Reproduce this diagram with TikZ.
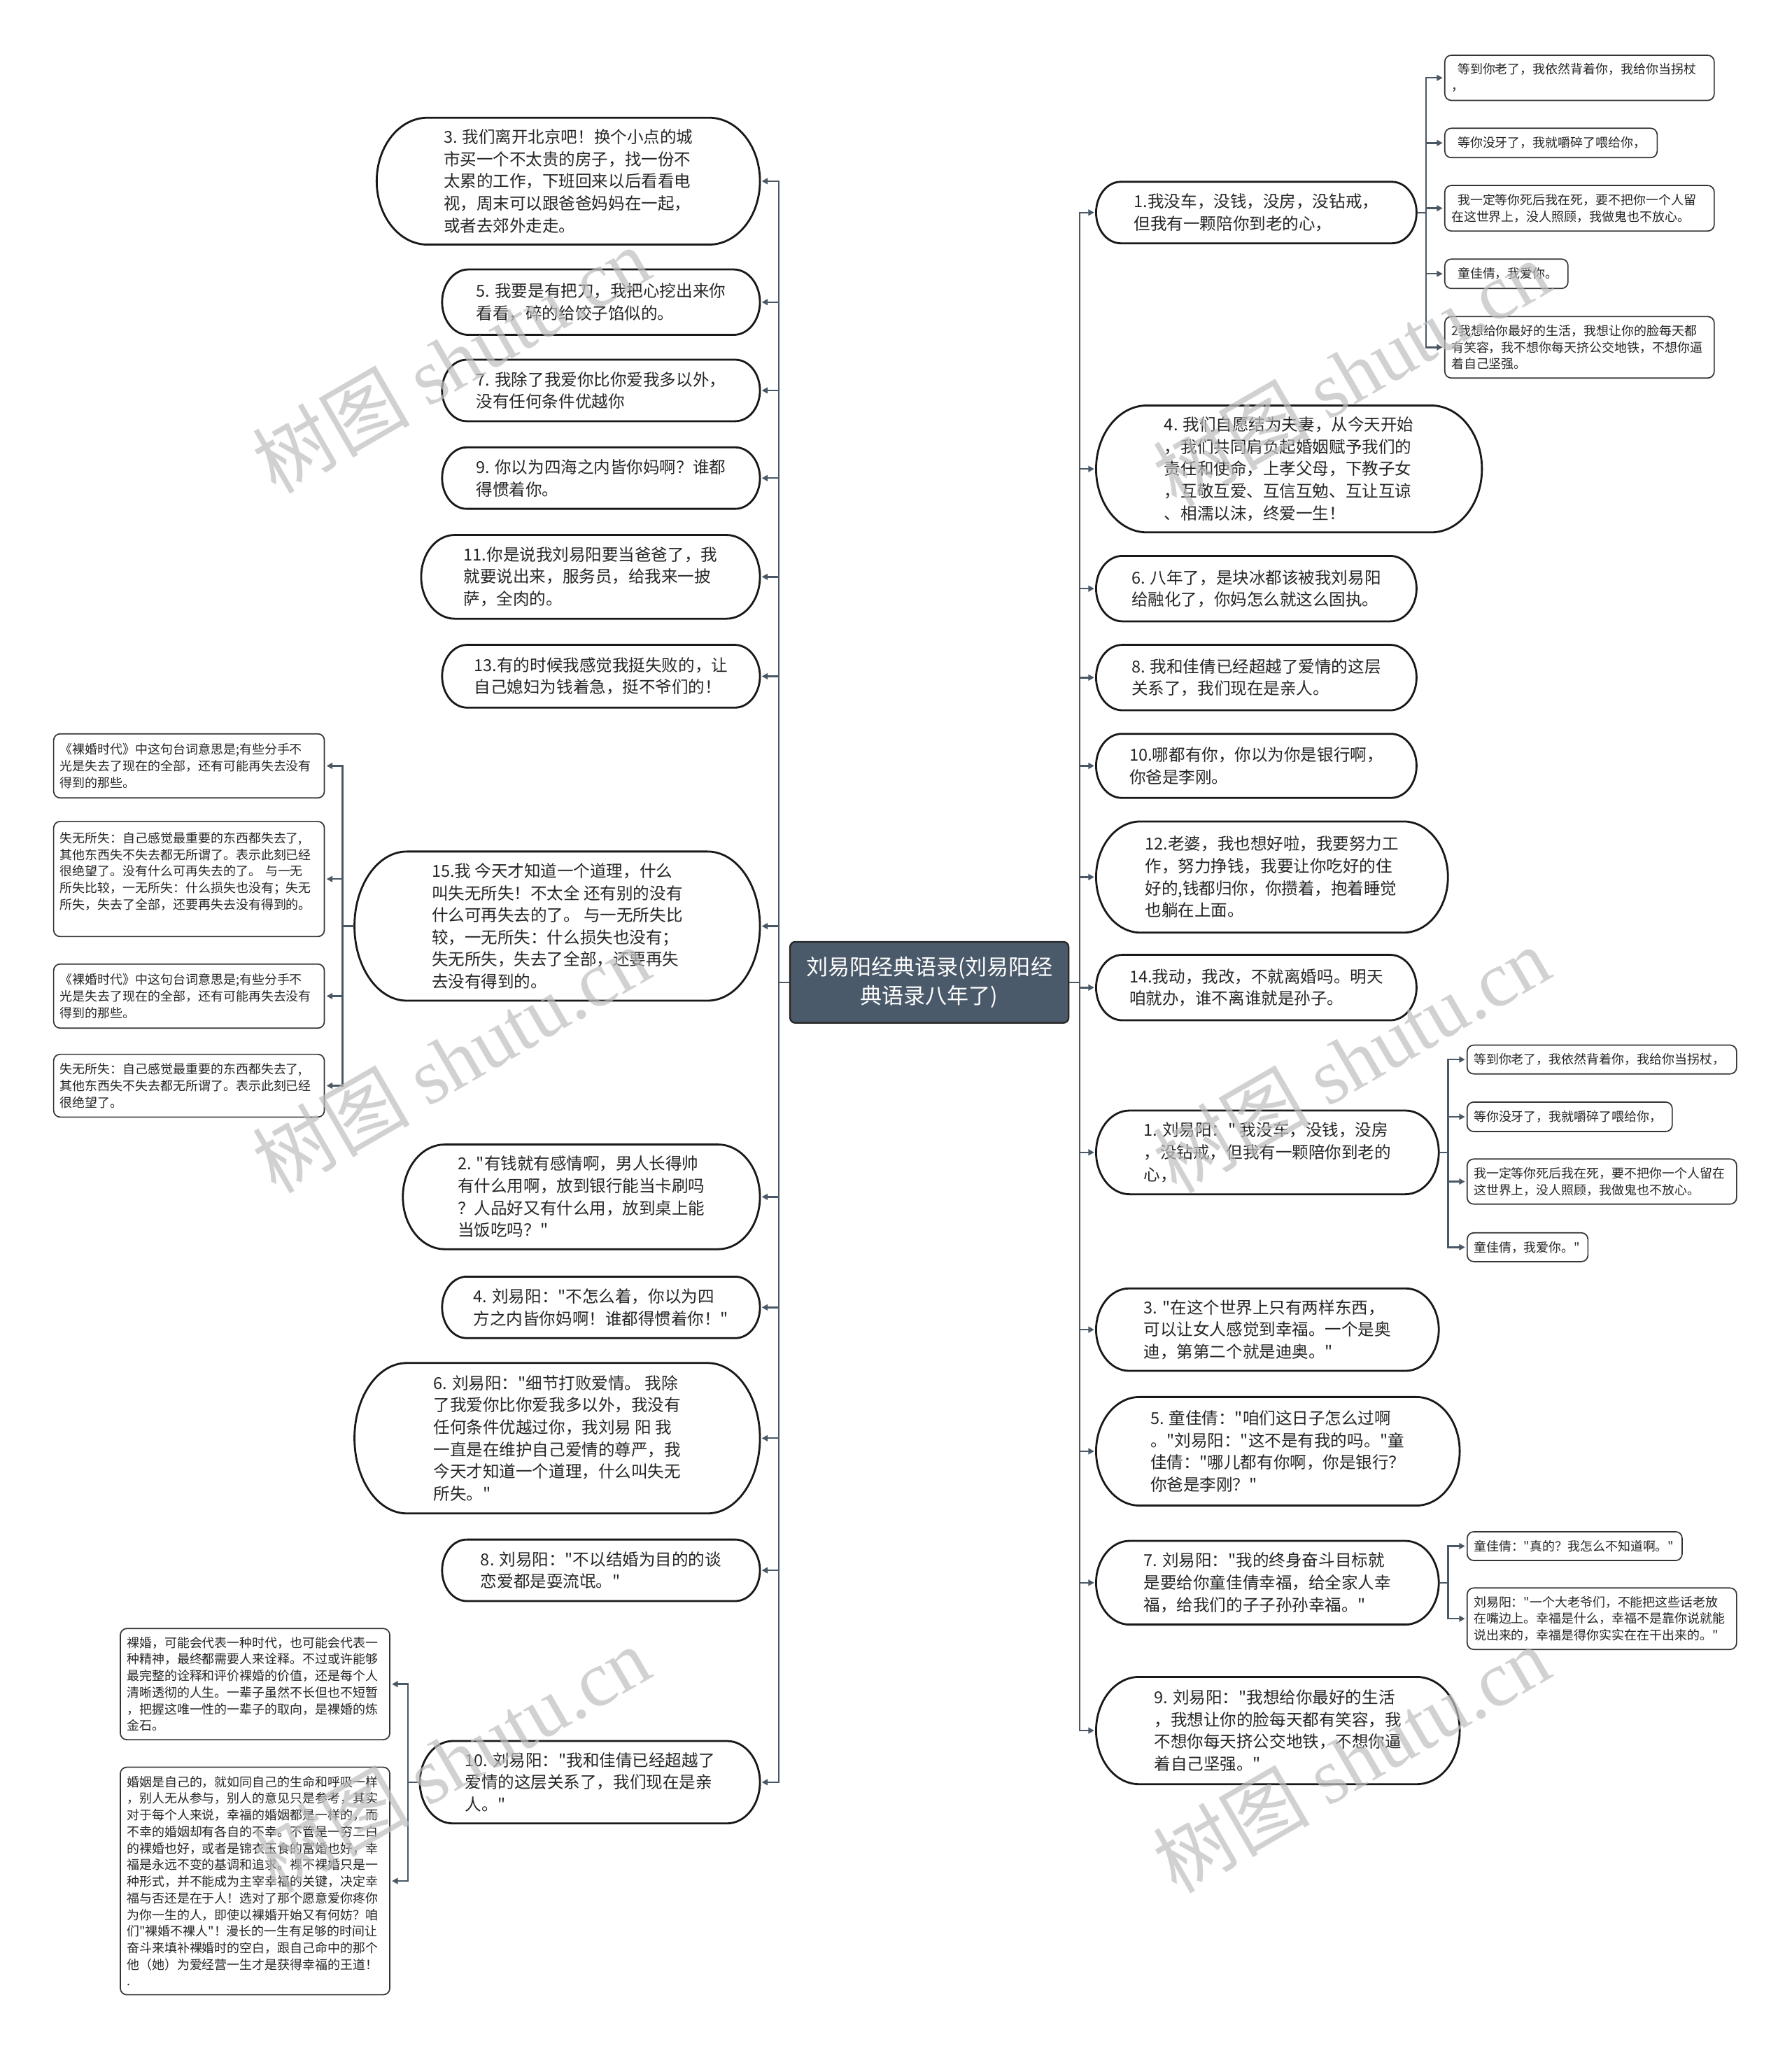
\documentclass[tikz,border=0pt]{standalone}
\usepackage{fontspec}
\setmainfont{Noto Sans CJK SC}[Ligatures=TeXOff]
\newfontfamily\wmserif{Liberation Serif}
\usetikzlibrary{arrows.meta,calc}
\definecolor{connc}{RGB}{74,88,102}
\definecolor{rootc}{RGB}{75,90,106}
\definecolor{wmc}{RGB}{190,190,190}
\tikzset{
 conn/.style={draw=connc, line width=1.3pt, -{Triangle[length=4.5pt,width=4.6pt]}, shorten >=1.2pt},
 pillline/.style={draw=black!90, line width=1.5pt, fill=white},
 pilltext/.style={draw=none, align=left, inner sep=0pt, text=black!85, font=\fontsize{12.6pt}{16.9pt}\selectfont},
 leafbox/.style={draw=black!80, line width=0.9pt, rounded corners=5pt, fill=white, align=left, inner xsep=5pt, inner ysep=0pt, text=black!85, font=\fontsize{9.6pt}{12.7pt}\selectfont},
 rootbox/.style={fill=rootc, draw=black!85, line width=1.2pt, rounded corners=4pt, text=white, align=center, minimum width=213, minimum height=62, inner sep=0pt, font=\fontsize{16.6pt}{22pt}\selectfont},
 wm/.style={text=wmc, text opacity=0.7, font=\fontsize{60pt}{60pt}\selectfont, inner sep=0pt}
}
\newcommand\pillnode[6]{%
 \pgfmathsetmacro\pillRY{#5/2}%
 \pgfmathsetmacro\pillRX{min(0.8*\pillRY,40)}%
 \pgfmathsetmacro\pillL{#2-#4/2}%
 \pgfmathsetmacro\pillR{#2+#4/2}%
 \pgfmathsetmacro\pillT{#3-\pillRY}%
 \pgfmathsetmacro\pillB{#3+\pillRY}%
 \pgfmathsetmacro\pillKX{0.5523*\pillRX}%
 \pgfmathsetmacro\pillKY{0.5523*\pillRY}%
 \path[pillline] (\pillL+\pillRX,\pillT) -- (\pillR-\pillRX,\pillT)
   .. controls (\pillR-\pillRX+\pillKX,\pillT) and (\pillR,#3-\pillKY) .. (\pillR,#3)
   .. controls (\pillR,#3+\pillKY) and (\pillR-\pillRX+\pillKX,\pillB) .. (\pillR-\pillRX,\pillB)
   -- (\pillL+\pillRX,\pillB)
   .. controls (\pillL+\pillRX-\pillKX,\pillB) and (\pillL,#3+\pillKY) .. (\pillL,#3)
   .. controls (\pillL,#3-\pillKY) and (\pillL+\pillRX-\pillKX,\pillT) .. (\pillL+\pillRX,\pillT) -- cycle;
 \node[pilltext, minimum width=#4, minimum height=#5] (#1) at (#2,#3) {#6};
}
\newcommand\leafnode[6]{%
 \pgfmathsetmacro\leafTW{#4-10}%
 \node[leafbox, text width=\leafTW pt, minimum height=#5] (#1) at (#2,#3) {#6};
}
\begin{document}
\begin{tikzpicture}[x=1pt,y=-1pt]
\fill[white] (0,0) rectangle (1370,1568);
\useasboundingbox (0,0) rectangle (1370,1568);

% root
\node[rootbox] (root) at (710.5,751) {刘易阳经典语录(刘易阳经\\典语录八年了)};

% right main nodes
\pillnode{R1}{960.5}{162.5}{245}{47}{1.我没车，没钱，没房，没钻戒，\\但我有一颗陪你到老的心，}
\pillnode{R4}{985.5}{358.5}{295}{97}{4. 我们自愿结为夫妻，从今天开始\\，我们共同肩负起婚姻赋予我们的\\责任和使命，上孝父母，下教子女\\，互敬互爱、互信互勉、互让互谅\\、相濡以沫，终爱一生！}
\pillnode{R6}{960.5}{450}{245}{50}{6. 八年了，是块冰都该被我刘易阳\\给融化了，你妈怎么就这么固执。}
\pillnode{R8}{960.5}{518}{245}{50}{8. 我和佳倩已经超越了爱情的这层\\关系了，我们现在是亲人。}
\pillnode{R10}{960.5}{585.5}{245}{49}{10.哪都有你，你以为你是银行啊，\\你爸是李刚。}
\pillnode{R12}{972.5}{670.5}{269}{85}{12.老婆，我也想好啦，我要努力工\\作，努力挣钱，我要让你吃好的住\\好的,钱都归你，你攒着，抱着睡觉\\也躺在上面。}
\pillnode{R14}{960.5}{755}{245}{50}{14.我动，我改，不就离婚吗。明天\\咱就办，谁不离谁就是孙子。}
\pillnode{R1b}{969}{881}{262}{64}{1. 刘易阳：" 我没车，没钱，没房\\，没钻戒，但我有一颗陪你到老的\\心，}
\pillnode{R3}{969}{1016.5}{262}{63}{3. "在这个世界上只有两样东西，\\可以让女人感觉到幸福。一个是奥\\迪，第第二个就是迪奥。"}
\pillnode{R5}{977}{1109.5}{278}{83}{5. 童佳倩："咱们这日子怎么过啊\\。"刘易阳："这不是有我的吗。"童\\佳倩："哪儿都有你啊，你是银行？\\你爸是李刚？"}
\pillnode{R7}{969}{1210}{262}{64}{7. 刘易阳："我的终身奋斗目标就\\是要给你童佳倩幸福，给全家人幸\\福，给我们的子子孙孙幸福。"}
\pillnode{R9}{977}{1323}{278}{82}{9. 刘易阳："我想给你最好的生活\\，我想让你的脸每天都有笑容，我\\不想你每天挤公交地铁，不想你逼\\着自己坚强。"}

% left main nodes
\pillnode{L3}{434.5}{138.5}{293}{97}{3. 我们离开北京吧！换个小点的城\\市买一个不太贵的房子，找一份不\\太累的工作，下班回来以后看看电\\视，周末可以跟爸爸妈妈在一起，\\或者去郊外走走。}
\pillnode{L5}{459.5}{231}{243}{50}{5. 我要是有把刀，我把心挖出来你\\看看，碎的给饺子馅似的。}
\pillnode{L7}{459.5}{298.5}{243}{47}{7. 我除了我爱你比你爱我多以外，\\没有任何条件优越你}
\pillnode{L9}{459.5}{365.5}{243}{47}{9. 你以为四海之内皆你妈啊？谁都\\得惯着你。}
\pillnode{L11}{451.5}{441}{259}{64}{11.你是说我刘易阳要当爸爸了，我\\就要说出来，服务员，给我来一披\\萨，全肉的。}
\pillnode{L13}{459.5}{517}{243}{48}{13.有的时候我感觉我挺失败的，让\\自己媳妇为钱着急，挺不爷们的！}
\pillnode{L15}{426}{708}{310}{114}{15.我 今天才知道一个道理，什么\\叫失无所失！不太全 还有别的没有\\什么可再失去的了。 与一无所失比\\较，一无所失：什么损失也没有；\\失无所失，失去了全部，还要再失\\去没有得到的。}
\pillnode{L2}{444.5}{915}{273}{80}{2. "有钱就有感情啊，男人长得帅\\有什么用啊，放到银行能当卡刷吗\\？人品好又有什么用，放到桌上能\\当饭吃吗？"}
\pillnode{L4}{459.5}{999.5}{243}{47}{4. 刘易阳："不怎么着，你以为四\\方之内皆你妈啊！谁都得惯着你！"}
\pillnode{L6}{426}{1099.5}{310}{115}{6. 刘易阳："细节打败爱情。 我除\\了我爱你比你爱我多以外，我没有\\任何条件优越过你，我刘易 阳 我\\一直是在维护自己爱情的尊严，我\\今天才知道一个道理，什么叫失无\\所失。"}
\pillnode{L8}{459.5}{1200.5}{243}{47}{8. 刘易阳："不以结婚为目的的谈\\恋爱都是耍流氓。"}
\pillnode{L10}{451}{1362.5}{260}{63}{10. 刘易阳："我和佳倩已经超越了\\爱情的这层关系了，我们现在是亲\\人。"}

% right leaves
\leafnode{RL1}{1207.6}{59.5}{206}{34.5}{\hspace*{.5em}等到你老了，我依然背着你，我给你当拐杖\\，}
\leafnode{RL2}{1185.8}{109.3}{162.4}{22.5}{\hspace*{.5em}等你没牙了，我就嚼碎了喂给你，}
\leafnode{RL3}{1207.6}{159.2}{206}{34.8}{\hspace*{.5em}我一定等你死后我在死，要不把你一个人留\\在这世界上，没人照顾，我做鬼也不放心。}
\leafnode{RL4}{1151.7}{209.3}{94.2}{22.5}{\hspace*{.5em}童佳倩，我爱你。}
\leafnode{RL5}{1207.6}{265.5}{206}{47}{2我想给你最好的生活，我想让你的脸每天都\\有笑容，我不想你每天挤公交地铁，不想你逼\\着自己坚强。}
\leafnode{RL6}{1224.7}{810}{206}{22}{等到你老了，我依然背着你，我给你当拐杖，}
\leafnode{RL7}{1200.1}{853.8}{156.8}{22.5}{等你没牙了，我就嚼碎了喂给你，}
\leafnode{RL8}{1224.7}{903.3}{206}{34.5}{我一定等你死后我在死，要不把你一个人留在\\这世界上，没人照顾，我做鬼也不放心。}
\leafnode{RL9}{1167.9}{953.5}{92.3}{22}{童佳倩，我爱你。"}
\leafnode{RL10}{1203.9}{1182}{164.3}{22}{童佳倩："真的？我怎么不知道啊。"}
\leafnode{RL11}{1224.7}{1237.5}{206}{47}{刘易阳："一个大老爷们，不能把这些话老放\\在嘴边上。幸福是什么，幸福不是靠你说就能\\说出来的，幸福是得你实实在在干出来的。"}

% left leaves
\leafnode{LL1}{144.5}{585.5}{207}{49}{《裸婚时代》中这句台词意思是;有些分手不\\光是失去了现在的全部，还有可能再失去没有\\得到的那些。}
\leafnode{LL2}{144.5}{672}{207}{88}{失无所失：自己感觉最重要的东西都失去了,\\其他东西失不失去都无所谓了。表示此刻已经\\很绝望了。没有什么可再失去的了。 与一无\\所失比较，一无所失：什么损失也没有；失无\\所失，失去了全部，还要再失去没有得到的。\\\mbox{}}
\leafnode{LL3}{144.5}{761.5}{207}{49}{《裸婚时代》中这句台词意思是;有些分手不\\光是失去了现在的全部，还有可能再失去没有\\得到的那些。}
\leafnode{LL4}{144.5}{830}{207}{48}{失无所失：自己感觉最重要的东西都失去了,\\其他东西失不失去都无所谓了。表示此刻已经\\很绝望了。}
\leafnode{LL5}{195}{1287.5}{206}{85}{裸婚，可能会代表一种时代，也可能会代表一\\种精神，最终都需要人来诠释。不过或许能够\\最完整的诠释和评价裸婚的价值，还是每个人\\清晰透彻的人生。一辈子虽然不长但也不短暂\\，把握这唯一性的一辈子的取向，是裸婚的炼\\金石。}
\leafnode{LL6}{195}{1438}{206}{174}{婚姻是自己的，就如同自己的生命和呼吸一样\\，别人无从参与，别人的意见只是参考，其实\\对于每个人来说，幸福的婚姻都是一样的，而\\不幸的婚姻却有各自的不幸。不管是一穷二白\\的裸婚也好，或者是锦衣玉食的富婚也好，幸\\福是永远不变的基调和追求。裸不裸婚只是一\\种形式，并不能成为主宰幸福的关键，决定幸\\福与否还是在于人！选对了那个愿意爱你疼你\\为你一生的人，即使以裸婚开始又有何妨？咱\\们"裸婚不裸人"！漫长的一生有足够的时间让\\奋斗来填补裸婚时的空白，跟自己命中的那个\\他（她）为爱经营一生才是获得幸福的王道！\\.}

% connectors
\coordinate (rtR) at ($(root.east)+(8,0)$);
\coordinate (rtL) at ($(root.west)+(-8,0)$);
\foreach \nn in {R1,R4,R6,R8,R10,R12,R14,R1b,R3,R5,R7,R9}
  \draw[conn] (root.east) -- (rtR) |- (\nn.west);
\foreach \nn in {L3,L5,L7,L9,L11,L13,L15,L2,L4,L6,L8,L10}
  \draw[conn] (root.west) -- (rtL) |- (\nn.east);
\coordinate (tR1) at ($(R1.east)+(7,0)$);
\foreach \nn in {RL1,RL2,RL3,RL4,RL5}
  \draw[conn] (R1.east) -- (tR1) |- (\nn.west);
\coordinate (tR1b) at ($(R1b.east)+(7,0)$);
\foreach \nn in {RL6,RL7,RL8,RL9}
  \draw[conn] (R1b.east) -- (tR1b) |- (\nn.west);
\coordinate (tR7) at ($(R7.east)+(7,0)$);
\foreach \nn in {RL10,RL11}
  \draw[conn] (R7.east) -- (tR7) |- (\nn.west);
\coordinate (tL15) at ($(L15.west)+(-9,0)$);
\foreach \nn in {LL1,LL2,LL3,LL4}
  \draw[conn] (L15.west) -- (tL15) |- (\nn.east);
\coordinate (tL10) at ($(L10.west)+(-9,0)$);
\foreach \nn in {LL5,LL6}
  \draw[conn] (L10.west) -- (tL10) |- (\nn.east);

% watermarks
\node[wm, rotate=30] (wm1) at (345,275) {树图 {\wmserif shutu.cn}};
\node[wm, rotate=30] (wm2) at (345,810) {树图 {\wmserif shutu.cn}};
\node[wm, rotate=30] (wm3) at (345,1345) {树图 {\wmserif shutu.cn}};
\node[wm, rotate=30] (wm4) at (1033,285) {树图 {\wmserif shutu.cn}};
\node[wm, rotate=30] (wm5) at (1033,810) {树图 {\wmserif shutu.cn}};
\node[wm, rotate=30] (wm6) at (1033,1345) {树图 {\wmserif shutu.cn}};
\end{tikzpicture}
\end{document}
